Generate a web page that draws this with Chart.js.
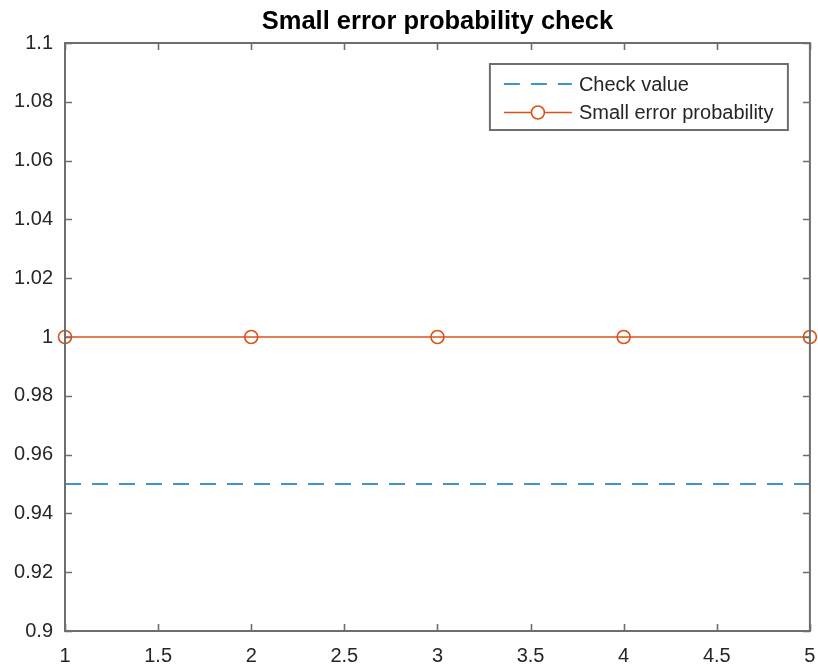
<!DOCTYPE html>
<html>
<head>
<meta charset="utf-8">
<script src="https://cdn.jsdelivr.net/npm/chart.js@4.4.0/dist/chart.umd.min.js"></script>
<style>
  html, body { margin: 0; padding: 0; background: #ffffff; }
  #c { display: block; }
</style>
</head>
<body>
<canvas id="c" width="818" height="669"></canvas>
<script>
// ---- data ----
const xValues = [1, 2, 3, 4, 5];
const checkValue = [0.95, 0.95, 0.95, 0.95, 0.95];
const smallErrorProbability = [1, 1, 1, 1, 1];
const seriesNames = ['Check value', 'Small error probability'];
const titleText = 'Small error probability check';

const xTicks = [1, 1.5, 2, 2.5, 3, 3.5, 4, 4.5, 5];
const xTickLabels = ['1', '1.5', '2', '2.5', '3', '3.5', '4', '4.5', '5'];
const yTicks = [0.9, 0.92, 0.94, 0.96, 0.98, 1, 1.02, 1.04, 1.06, 1.08, 1.1];
const yTickLabels = ['0.9', '0.92', '0.94', '0.96', '0.98', '1', '1.02', '1.04', '1.06', '1.08', '1.1'];

const FONT = "'Liberation Sans', Arial, Helvetica, sans-serif";
const TEXT_COLOR = '#262626';
const AXIS_COLOR = '#6e6e6e';

function toPoints(ys) { return xValues.map((x, i) => ({ x: x, y: ys[i] })); }

// center the title over the plot area (as MATLAB does)
const centerTitle = {
  id: 'centerTitle',
  afterLayout(chart) {
    if (chart.titleBlock) {
      chart.titleBlock.left = chart.chartArea.left;
      chart.titleBlock.right = chart.chartArea.right;
    }
  }
};

// axes box with inward ticks on all sides (MATLAB style)
const boxAxes = {
  id: 'boxAxes',
  afterDatasetsDraw(chart) {
    const { ctx, chartArea: a, scales } = chart;
    const tl = 7;
    ctx.save();
    ctx.strokeStyle = AXIS_COLOR;
    ctx.lineWidth = 1.6;
    ctx.beginPath();
    scales.x.ticks.forEach(t => {
      const px = Math.round(scales.x.getPixelForValue(t.value)) + 0.5;
      ctx.moveTo(px, a.bottom); ctx.lineTo(px, a.bottom - tl);
      ctx.moveTo(px, a.top); ctx.lineTo(px, a.top + tl);
    });
    scales.y.ticks.forEach(t => {
      const py = Math.round(scales.y.getPixelForValue(t.value)) + 0.5;
      ctx.moveTo(a.left, py); ctx.lineTo(a.left + tl, py);
      ctx.moveTo(a.right, py); ctx.lineTo(a.right - tl, py);
    });
    ctx.stroke();
    ctx.lineWidth = 2;
    ctx.strokeRect(a.left, a.top, a.right - a.left, a.bottom - a.top);
    ctx.restore();
  }
};

// MATLAB-like legend box, drawn from the datasets
const boxLegend = {
  id: 'boxLegend',
  afterDraw(chart) {
    const { ctx, chartArea: a } = chart;
    const ds = chart.data.datasets;
    const right = a.right - 22, top = a.top + 21;
    const w = 298, rowH = 28.5, h = 66;
    const left = right - w;
    ctx.save();
    ctx.fillStyle = '#ffffff';
    ctx.fillRect(left, top, w, h);
    ctx.strokeStyle = AXIS_COLOR;
    ctx.lineWidth = 2;
    ctx.strokeRect(left, top, w, h);
    ds.forEach((d, i) => {
      const y = top + 20 + i * rowH;
      const x0 = left + 14, x1 = left + 82;
      ctx.strokeStyle = d.borderColor;
      ctx.lineWidth = d.borderWidth;
      ctx.setLineDash(d.borderDash || []);
      ctx.beginPath(); ctx.moveTo(x0, y); ctx.lineTo(x1, y); ctx.stroke();
      ctx.setLineDash([]);
      if (d.pointRadius > 0) {
        ctx.beginPath();
        ctx.arc((x0 + x1) / 2, y, d.pointRadius, 0, Math.PI * 2);
        ctx.fillStyle = '#ffffff';
        ctx.fill();
        ctx.lineWidth = d.pointBorderWidth;
        ctx.strokeStyle = d.pointBorderColor;
        ctx.stroke();
      }
      ctx.fillStyle = TEXT_COLOR;
      ctx.font = '20px ' + FONT;
      ctx.textBaseline = 'middle';
      ctx.textAlign = 'left';
      ctx.fillText(d.label, x1 + 7, y + 1);
    });
    ctx.restore();
  }
};

new Chart(document.getElementById('c'), {
  type: 'line',
  data: {
    datasets: [
      {
        label: seriesNames[0],
        data: toPoints(checkValue),
        borderColor: '#0072BD',
        borderWidth: 1.6,
        borderDash: [16, 11],
        pointRadius: 0,
        pointHoverRadius: 0,
        fill: false,
        tension: 0,
        clip: false
      },
      {
        label: seriesNames[1],
        data: toPoints(smallErrorProbability),
        borderColor: '#D95319',
        borderWidth: 1.6,
        pointRadius: 6.5,
        pointHoverRadius: 6.5,
        pointBorderWidth: 1.6,
        pointBorderColor: '#D95319',
        pointBackgroundColor: 'rgba(255,255,255,0)',
        pointStyle: 'circle',
        fill: false,
        tension: 0,
        clip: false
      }
    ]
  },
  options: {
    responsive: false,
    animation: false,
    events: [],
    layout: { padding: { left: 0, right: 7, top: 0, bottom: 0 } },
    plugins: {
      legend: { display: false },
      tooltip: { enabled: false },
      title: {
        display: true,
        text: titleText,
        color: '#000000',
        font: { family: FONT, size: 25.5, weight: 'bold', lineHeight: 1.2 },
        padding: { top: 7, bottom: 5.4 }
      }
    },
    scales: {
      x: {
        type: 'linear',
        min: 1,
        max: 5,
        afterBuildTicks(scale) { scale.ticks = xTicks.map(v => ({ value: v })); },
        afterFit(scale) {
          scale.height = 38;
          scale.paddingLeft = 0; scale.paddingRight = 0;
        },
        grid: { display: false, drawTicks: false },
        border: { display: false },
        ticks: {
          autoSkip: false,
          maxRotation: 0,
          padding: 13,
          color: TEXT_COLOR,
          font: { family: FONT, size: 20 },
          callback(value) { const i = xTicks.indexOf(value); return i >= 0 ? xTickLabels[i] : ''; }
        }
      },
      y: {
        type: 'linear',
        min: 0.9,
        max: 1.1,
        afterBuildTicks(scale) { scale.ticks = yTicks.map(v => ({ value: v })); },
        afterFit(scale) {
          scale.width = 65;
          scale.paddingTop = 0; scale.paddingBottom = 0;
        },
        grid: { display: false, drawTicks: false },
        border: { display: false },
        ticks: {
          autoSkip: false,
          padding: 12,
          color: TEXT_COLOR,
          font: { family: FONT, size: 20 },
          callback(value) {
            const i = yTicks.findIndex(v => Math.abs(v - value) < 1e-9);
            return i >= 0 ? yTickLabels[i] : '';
          }
        }
      }
    }
  },
  plugins: [centerTitle, boxAxes, boxLegend]
});
</script>
</body>
</html>
